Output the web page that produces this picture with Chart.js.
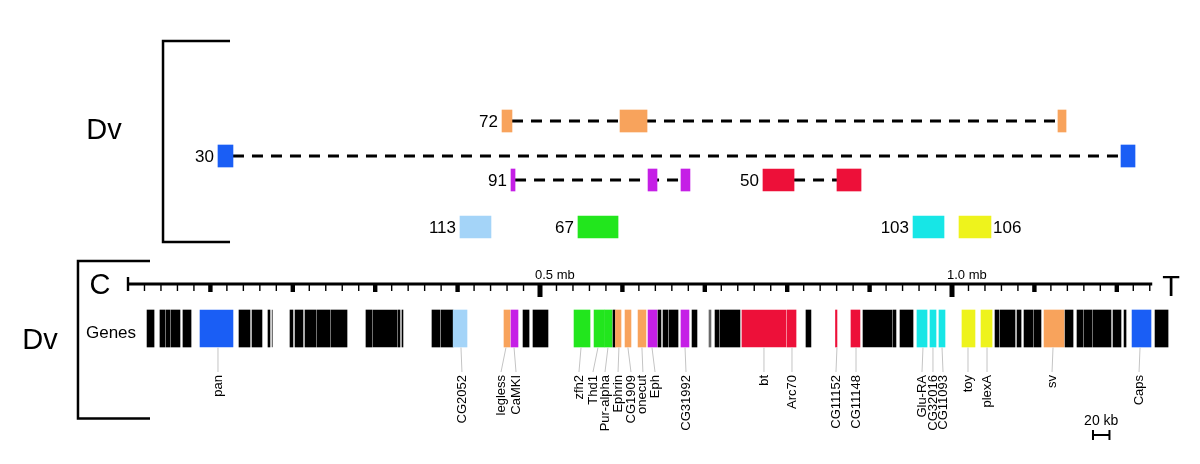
<!DOCTYPE html>
<html>
<head>
<meta charset="utf-8">
<script src="https://cdn.jsdelivr.net/npm/chart.js@4.4.1/dist/chart.umd.min.js"></script>
<style>
  html, body { margin: 0; padding: 0; background: #fff; }
</style>
</head>
<body>
<canvas id="mapCanvas" width="1200" height="464"></canvas>
<script>
// all positions in kb along the Dv region (C end = 0)

// conserved blocks (top panel)
const blockIds    = ['72', '72', '72', '30', '30', '91', '91', '91', '50', '50', '113', '67', '103', '106'];
const blockStarts = [453.9, 597.1, 1128.6, 109.2, 1205.1, 464.8, 631.1, 671.1, 770.6, 860.4, 402.9, 546.1, 952.7, 1008.5];
const blockEnds   = [466.0, 629.9, 1138.4, 127.4, 1222.1, 469.7, 642.0, 682.0, 808.3, 889.6, 440.5, 594.7, 990.3, 1047.3];

// dashed links joining pieces of the same block
const linkIds  = ['72', '30', '91', '50'];
const linkFrom = [466.0, 127.4, 469.7, 808.3];
const linkTo   = [1128.6, 1205.1, 671.1, 860.4];

// gene track
const geneStarts = [23.1, 38.8, 46.1, 52.2, 66.7, 87.4, 134.7, 150.5, 169.9, 174.8,
  196.6, 202.7, 214.8, 229.4, 246.4, 288.8, 297.3, 327.7, 332.5, 368.9,
  379.9, 394.6, 456.3, 464.8, 479.4, 491.5, 541.3, 565.6, 578.2, 588.6,
  591.6, 603.2, 619.0, 631.1, 643.2, 649.3, 656.6, 671.1, 684.5, 705.1,
  712.4, 718.5, 745.1, 799.8, 822.8, 858.6, 877.4, 892.0, 928.4, 936.9,
  957.5, 973.3, 984.2, 1012.1, 1035.2, 1052.2, 1058.3, 1078.9, 1087.4, 1099.5,
  1111.7, 1137.2, 1151.7, 1160.2, 1171.1, 1195.4, 1208.8, 1218.5, 1246.4];
const geneEnds = [31.6, 44.9, 51.0, 63.1, 76.5, 127.4, 148.1, 162.6, 172.3, 175.5,
  200.2, 212.4, 228.2, 245.2, 265.8, 296.1, 326.5, 330.1, 333.7, 378.6,
  394.4, 411.4, 463.6, 473.3, 486.7, 509.7, 560.7, 577.7, 587.4, 591.0,
  598.3, 610.4, 628.6, 642.0, 646.8, 655.3, 667.5, 680.8, 690.5, 707.5,
  717.3, 742.7, 798.5, 810.7, 828.8, 860.4, 888.3, 927.2, 932.0, 952.7,
  969.7, 980.6, 991.5, 1027.9, 1048.6, 1057.0, 1076.5, 1083.8, 1098.3, 1108.0,
  1135.9, 1146.9, 1159.0, 1169.9, 1193.0, 1205.1, 1211.2, 1241.5, 1262.2];
const geneGroups = ['', '', '', '', '', '30', '', '', '', 'gray',
  '', '', '', '', '', '', '', '', '', '',
  '', '113', '72', '91', '', '', '67', '67', '67', '',
  '72', '72', '72', '91', '', '', '', '91', '', 'gray',
  '', '', '50', '50', '', '50', '50', '', '', '',
  '103', '103', '103', '106', '106', '', '', '', '', '',
  '72', '', '', '', '', '', '', '30', ''];

// named genes: where the tick leaves the track, where the label sits
const geneNames   = ['pan', 'CG2052', 'legless', 'CaMKI', 'zfh2', 'Thd1', 'Pur-alpha', 'Ephrin', 'CG1909', 'onecut',
  'Eph', 'CG31992', 'bt', 'Arc70', 'CG11152', 'CG11148', 'Glu-RA', 'CG32016', 'CG11093', 'toy', 'plexA', 'sv', 'Caps'];
const geneMarkAt  = [109.2, 404.1, 458.7, 468.5, 549.8, 570.4, 582.5, 595.8, 606.7, 623.7,
  635.9, 676.0, 771.8, 805.8, 860.4, 883.5, 964.8, 976.9, 987.9, 1019.4, 1042.5, 1122.6, 1228.2];
const geneLabelAt = [109.2, 405.3, 452.7, 470.9, 547.3, 564.3, 578.9, 594.7, 610.4, 624.9,
  639.6, 677.2, 771.8, 805.8, 859.2, 883.5, 963.6, 976.9, 989.1, 1019.4, 1042.5, 1121.4, 1227.0];

// ruler
const rulerEnd = 1243;
const rulerMinorStep = 20;
const rulerMajorStep = 100;
const rulerLabelAt = [500, 1000];
const rulerLabels = ['0.5 mb', '1.0 mb'];
const scaleBarKb = 20;

// ---- styling / layout ----
const groupColors = {
  '': '#000000', 'gray': '#6a6a6a',
  '30': '#1a5ef5', '113': '#a4d4f8', '72': '#f8a35c', '91': '#c51fe6',
  '67': '#22e61d', '50': '#ed1039', '103': '#17e6e6', '106': '#eef31c'
};
// vertical placement, y scale units (reversed, top = 0)
const rowY = { '72': 12.1, '30': 15.6, '91': 18.0, '50': 18.0, '113': 22.7, '67': 22.7, '103': 22.7, '106': 22.7 };
const rulerY = 28.4;
const genesY = 32.85;
const FONT = '"Liberation Sans", Arial, Helvetica, sans-serif';

const blockData = blockIds.map((id, i) => ({ x: [blockStarts[i], blockEnds[i]], y: rowY[id] }));
const geneData = geneStarts.map((s, i) => ({ x: [s, geneEnds[i]], y: genesY }));

const linkSets = linkIds.map((id, i) => ({
  type: 'line',
  data: [{ x: linkFrom[i], y: rowY[id] }, { x: linkTo[i], y: rowY[id] }],
  borderColor: '#000',
  borderWidth: 3,
  borderDash: [11, 8],
  pointRadius: 0,
  order: 5
}));

const mapDecor = {
  id: 'mapDecor',
  afterDatasetsDraw(chart) {
    const { ctx, scales: { x, y } } = chart;
    const px = v => x.getPixelForValue(v);
    const py = v => y.getPixelForValue(v);
    ctx.save();
    ctx.fillStyle = '#000';
    ctx.strokeStyle = '#000';

    // brackets
    ctx.lineWidth = 2.5;
    ctx.beginPath();
    ctx.moveTo(px(123.8), py(4.1)); ctx.lineTo(px(42.5), py(4.1));
    ctx.lineTo(px(42.5), py(24.2)); ctx.lineTo(px(123.8), py(24.2));
    ctx.moveTo(px(26.7), py(26.1)); ctx.lineTo(px(-60.7), py(26.1));
    ctx.lineTo(px(-60.7), py(41.85)); ctx.lineTo(px(26.7), py(41.85));
    ctx.stroke();

    ctx.textBaseline = 'middle';
    ctx.textAlign = 'center';
    ctx.font = '29px ' + FONT;
    ctx.fillText('Dv', px(-29.1), py(13.1));
    ctx.fillText('Dv', px(-106.8), py(34.1));
    ctx.fillText('C', px(-34.0), py(28.6));
    ctx.fillText('T', px(1265.8), py(28.8));
    ctx.font = '17px ' + FONT;
    ctx.textAlign = 'left';
    ctx.fillText('Genes', px(-51.0), py(33.3));

    // block numbers
    ctx.font = '17px ' + FONT;
    const seen = {};
    blockIds.forEach((id, i) => {
      if (!seen[id]) seen[id] = { s: blockStarts[i], e: blockEnds[i] };
      seen[id].s = Math.min(seen[id].s, blockStarts[i]);
      seen[id].e = Math.max(seen[id].e, blockEnds[i]);
    });
    Object.keys(seen).forEach(id => {
      if (id === '106') {
        ctx.textAlign = 'left';
        ctx.fillText(id, px(seen[id].e) + 2, py(rowY[id]) + 1);
      } else {
        ctx.textAlign = 'right';
        ctx.fillText(id, px(seen[id].s) - 4, py(rowY[id]) + 1);
      }
    });

    // ruler
    ctx.lineWidth = 2.8;
    ctx.beginPath();
    ctx.moveTo(px(0), py(rulerY)); ctx.lineTo(px(rulerEnd), py(rulerY));
    ctx.stroke();
    ctx.fillRect(px(0) - 1.2, py(rulerY) - 7, 2.4, 14);
    for (let kb = rulerMinorStep; kb <= rulerEnd; kb += rulerMinorStep) {
      const cx = px(kb);
      if (kb % 500 === 0) ctx.fillRect(cx - 2.5, py(rulerY), 5, 13);
      else if (kb % rulerMajorStep === 0) ctx.fillRect(cx - 2.2, py(rulerY), 4.4, 8);
      else ctx.fillRect(cx - 0.7, py(rulerY), 1.4, 7);
    }
    ctx.font = '13px ' + FONT;
    ctx.textAlign = 'left';
    ctx.textBaseline = 'alphabetic';
    rulerLabelAt.forEach((kb, i) => ctx.fillText(rulerLabels[i], px(kb) - 5, py(rulerY) - 5));

    // gene name ticks and labels
    ctx.strokeStyle = '#c4c4c4';
    ctx.lineWidth = 1;
    ctx.font = '13px ' + FONT;
    ctx.fillStyle = '#000';
    geneNames.forEach((name, i) => {
      ctx.beginPath();
      ctx.moveTo(px(geneMarkAt[i]), py(34.75));
      ctx.lineTo(px(geneLabelAt[i]), py(37.2));
      ctx.stroke();
      ctx.save();
      ctx.translate(px(geneLabelAt[i]), py(37.5));
      ctx.rotate(-Math.PI / 2);
      ctx.textAlign = 'right';
      ctx.textBaseline = 'middle';
      ctx.fillText(name, 0, 0);
      ctx.restore();
    });

    // scale bar
    const sb0 = 1171.1, sb1 = sb0 + scaleBarKb;
    ctx.strokeStyle = '#000';
    ctx.lineWidth = 2;
    ctx.beginPath();
    ctx.moveTo(px(sb0), py(43.5)); ctx.lineTo(px(sb1), py(43.5));
    ctx.moveTo(px(sb0), py(43.0)); ctx.lineTo(px(sb0), py(44.0));
    ctx.moveTo(px(sb1), py(43.0)); ctx.lineTo(px(sb1), py(44.0));
    ctx.stroke();
    ctx.textAlign = 'center';
    ctx.textBaseline = 'middle';
    ctx.font = '14px ' + FONT;
    ctx.fillText(scaleBarKb + ' kb', px((sb0 + sb1) / 2), py(42.15));

    ctx.restore();
  }
};

new Chart(document.getElementById('mapCanvas').getContext('2d'), {
  type: 'bar',
  data: {
    datasets: [
      {
        type: 'bar',
        indexAxis: 'y',
        stack: 'map',
        data: blockData,
        backgroundColor: blockIds.map(id => groupColors[id]),
        barThickness: 22,
        borderWidth: 0,
        order: 1
      },
      {
        type: 'bar',
        indexAxis: 'y',
        stack: 'map',
        data: geneData,
        backgroundColor: geneGroups.map(g => groupColors[g]),
        barThickness: 37,
        borderWidth: 0,
        order: 1
      },
      ...linkSets
    ]
  },
  options: {
    responsive: false,
    animation: false,
    devicePixelRatio: 1,
    layout: { padding: 0 },
    plugins: { legend: { display: false }, tooltip: { enabled: false } },
    scales: {
      x: { type: 'linear', min: -155.34, max: 1300.97, offset: false, stacked: false, display: false },
      y: { type: 'linear', min: 0, max: 46.4, reverse: true, offset: false, display: false }
    }
  },
  plugins: [mapDecor]
});
</script>
</body>
</html>
